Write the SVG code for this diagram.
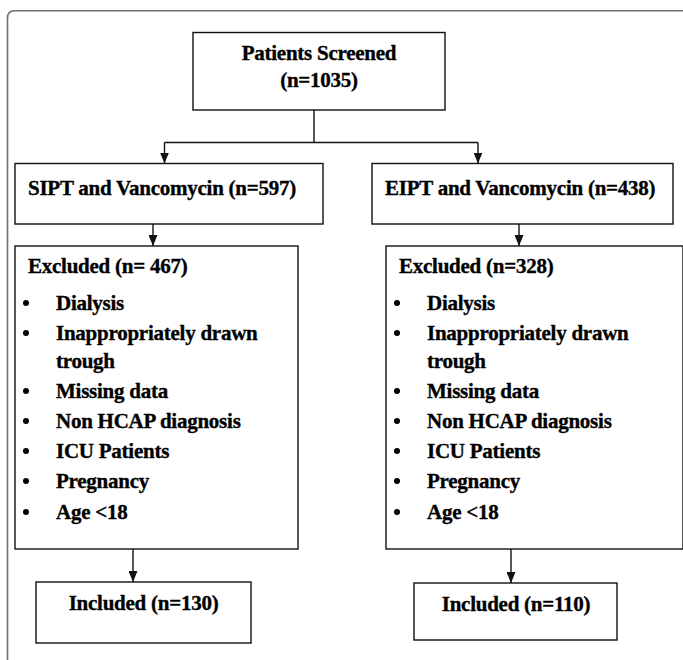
<svg xmlns="http://www.w3.org/2000/svg" width="683" height="660" viewBox="0 0 683 660">
<style>
.box{fill:#fff;stroke:#111;stroke-width:1.4}
.t{font-family:'Liberation Serif','Times New Roman',serif;font-weight:700;font-size:21px;fill:#000;stroke:#000;stroke-width:0.35;letter-spacing:-0.25px}
.c{text-anchor:middle}
.ln{fill:none;stroke:#111;stroke-width:1.4}
.frame{fill:none;stroke:#6f6f6f;stroke-width:1.6}
</style>
<defs>
<marker id="ah" markerWidth="11" markerHeight="9" refX="11" refY="4.5" orient="auto" markerUnits="userSpaceOnUse" viewBox="0 0 11 9">
<path d="M0,0 L11,4.5 L0,9 Z" fill="#111"/>
</marker>
<circle id="b" r="3" fill="#000"/>
</defs>
<rect width="683" height="660" fill="#fff"/>
<path class="frame" d="M7.5,660 V18 Q7.5,10.7 14.5,10.7 H683"/>
<g id="connectors">
<path class="ln" d="M314,110 V142.5 M164.5,142.5 H478"/>
<path class="ln" d="M164.5,142.5 V163.5" marker-end="url(#ah)"/>
<path class="ln" d="M478,142.5 V163.5" marker-end="url(#ah)"/>
<path class="ln" d="M153,224 V246" marker-end="url(#ah)"/>
<path class="ln" d="M519,224 V246" marker-end="url(#ah)"/>
<path class="ln" d="M133,549 V582" marker-end="url(#ah)"/>
<path class="ln" d="M511,549 V583" marker-end="url(#ah)"/>
</g>
<g id="screened">
<rect class="box" x="193" y="32.5" width="252" height="77.5"/>
<text class="t c" x="319" y="59.5">Patients Screened</text>
<text class="t c" x="319" y="87">(n=1035)</text>
</g>
<g id="sipt">
<rect class="box" x="15" y="163.5" width="308" height="60.5"/>
<text class="t" x="28" y="195">SIPT and Vancomycin (n=597)</text>
</g>
<g id="eipt">
<rect class="box" x="372" y="163.5" width="301" height="60.5"/>
<text class="t" x="385" y="195">EIPT and Vancomycin (n=438)</text>
</g>
<g id="excluded-left">
<rect class="box" x="15" y="246" width="283" height="303"/>
<text class="t" x="28" y="273">Excluded (n= 467)</text>
<use href="#b" x="26" y="303"/>
<use href="#b" x="26" y="333"/>
<use href="#b" x="26" y="391"/>
<use href="#b" x="26" y="421"/>
<use href="#b" x="26" y="451"/>
<use href="#b" x="26" y="481"/>
<use href="#b" x="26" y="512"/>
<text class="t" x="56" y="310">Dialysis</text>
<text class="t" x="56" y="340">Inappropriately drawn</text>
<text class="t" x="56" y="368">trough</text>
<text class="t" x="56" y="398">Missing data</text>
<text class="t" x="56" y="428">Non HCAP diagnosis</text>
<text class="t" x="56" y="458">ICU Patients</text>
<text class="t" x="56" y="488">Pregnancy</text>
<text class="t" x="56" y="519">Age &lt;18</text>
</g>
<g id="excluded-right">
<rect class="box" x="386" y="246" width="297" height="303"/>
<text class="t" x="399" y="273">Excluded (n=328)</text>
<use href="#b" x="397" y="303"/>
<use href="#b" x="397" y="333"/>
<use href="#b" x="397" y="391"/>
<use href="#b" x="397" y="421"/>
<use href="#b" x="397" y="451"/>
<use href="#b" x="397" y="481"/>
<use href="#b" x="397" y="512"/>
<text class="t" x="427" y="310">Dialysis</text>
<text class="t" x="427" y="340">Inappropriately drawn</text>
<text class="t" x="427" y="368">trough</text>
<text class="t" x="427" y="398">Missing data</text>
<text class="t" x="427" y="428">Non HCAP diagnosis</text>
<text class="t" x="427" y="458">ICU Patients</text>
<text class="t" x="427" y="488">Pregnancy</text>
<text class="t" x="427" y="519">Age &lt;18</text>
</g>
<g id="included-left">
<rect class="box" x="36" y="582" width="215" height="61"/>
<text class="t c" x="143.5" y="610">Included (n=130)</text>
</g>
<g id="included-right">
<rect class="box" x="414" y="583" width="203" height="57"/>
<text class="t c" x="516" y="611">Included (n=110)</text>
</g>
</svg>
